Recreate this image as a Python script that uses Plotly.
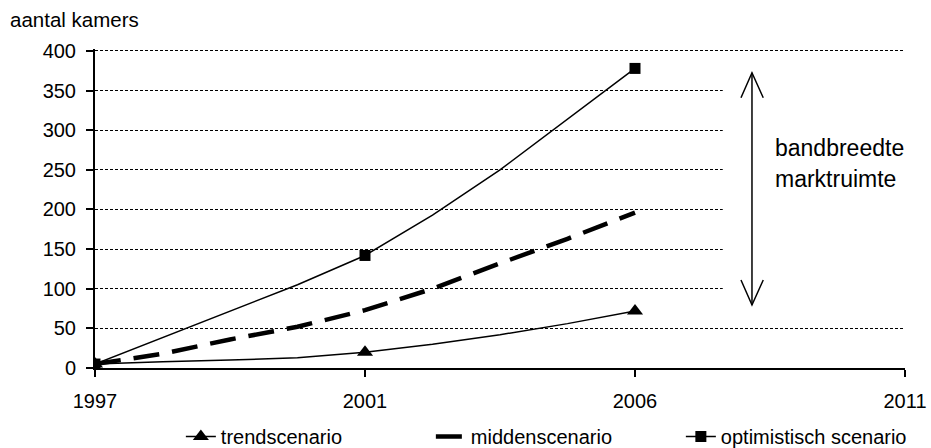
import plotly.graph_objects as go

# ---- data ----
# category positions along the x axis (equally spaced steps; labelled every 4th)
positions = [0, 1, 2, 3, 4, 5, 6, 7, 8]
tick_positions = [0, 4, 8, 12]
tick_labels = ["1997", "2001", "2006", "2011"]

trend = [5, 8, 10, 13, 20, 30, 42, 56, 72]
midden = [5, 18, 36, 52, 73, 100, 132, 163, 196]
optimistisch = [5, 38, 71, 105, 142, 193, 250, 314, 378]

# markers only on the labelled years
marker_on = [True, False, False, False, True, False, False, False, True]

series_names = ["trendscenario", "middenscenario", "optimistisch scenario"]
y_ticks = [0, 50, 100, 150, 200, 250, 300, 350, 400]

FONT = "Liberation Sans, Arial, sans-serif"
BLACK = "#000000"
CLEAR = "rgba(0,0,0,0)"

def mcolors():
    return [BLACK if m else CLEAR for m in marker_on]

fig = go.Figure()

fig.add_trace(go.Scatter(
    x=positions, y=trend, name=series_names[0], mode="lines+markers",
    line=dict(color=BLACK, width=1.5),
    marker=dict(symbol="triangle-up", size=14, color=mcolors(), line=dict(width=0)),
))
fig.add_trace(go.Scatter(
    x=positions, y=midden, name=series_names[1], mode="lines",
    line=dict(color=BLACK, width=4.5, dash="26px,13px"),
))
fig.add_trace(go.Scatter(
    x=positions, y=optimistisch, name=series_names[2], mode="lines+markers",
    line=dict(color=BLACK, width=1.5),
    marker=dict(symbol="square", size=11, color=mcolors(), line=dict(width=0)),
))

# white box behind the arrow annotation (covers gridlines there)
shapes = [
    dict(type="rect", xref="x", yref="y", x0=9.3, x1=12, y0=58, y1=394,
         fillcolor="white", line=dict(width=0), layer="above"),
    # double-headed arrow
    dict(type="line", xref="x", yref="y", x0=9.733, x1=9.733, y0=79.5, y1=372.5,
         line=dict(color=BLACK, width=1.5), layer="above"),
    dict(type="path", xref="x", yref="y",
         path="M 9.57 341 L 9.733 372.5 L 9.90 341",
         line=dict(color=BLACK, width=1.5), layer="above"),
    dict(type="path", xref="x", yref="y",
         path="M 9.57 111 L 9.733 79.5 L 9.90 111",
         line=dict(color=BLACK, width=1.5), layer="above"),
]

annotations = [
    dict(text="aantal kamers", xref="paper", yref="paper", x=-0.108, y=1.092,
         xanchor="left", yanchor="middle", showarrow=False,
         font=dict(family=FONT, size=20.5, color=BLACK)),
    dict(text="bandbreedte", xref="x", yref="y", x=10.05, y=277,
         xanchor="left", yanchor="middle", showarrow=False,
         font=dict(family=FONT, size=23, color=BLACK)),
    dict(text="marktruimte", xref="x", yref="y", x=10.05, y=239,
         xanchor="left", yanchor="middle", showarrow=False,
         font=dict(family=FONT, size=23, color=BLACK)),
]

fig.update_layout(
    width=931, height=448,
    margin=dict(l=95, r=26, t=49, b=80, autoexpand=False),
    paper_bgcolor="white", plot_bgcolor="white",
    font=dict(family=FONT, size=20, color=BLACK),
    shapes=shapes, annotations=annotations,
    legend=dict(orientation="h", x=0.106, xanchor="left", y=-0.215, yanchor="middle",
                entrywidth=205, entrywidthmode="pixels",
                font=dict(family=FONT, size=20, color=BLACK), bgcolor="rgba(0,0,0,0)"),
    xaxis=dict(range=[0, 12], tickmode="array", tickvals=tick_positions, ticktext=tick_labels,
               showgrid=False, zeroline=False, showline=True, linecolor=BLACK, linewidth=2,
               ticks="outside", ticklen=7, tickwidth=1.5, tickcolor=BLACK,
               ticklabelstandoff=7, tickfont=dict(size=20)),
    xaxis2=dict(range=[0, 12], tickmode="array", tickvals=tick_positions, overlaying="x",
                anchor="y", side="bottom", showgrid=False, zeroline=False, showline=False,
                ticks="inside", ticklen=7, tickwidth=1.5, tickcolor=BLACK, showticklabels=False),
    yaxis=dict(range=[0, 402.5], tickmode="array", tickvals=y_ticks,
               showgrid=True, gridcolor=BLACK, gridwidth=1, griddash="3px,2px",
               zeroline=False, showline=True, linecolor=BLACK, linewidth=2,
               ticks="outside", ticklen=7, tickwidth=1.5, tickcolor=BLACK,
               ticklabelstandoff=6, tickfont=dict(size=20)),
)

fig.write_html("out.html")
